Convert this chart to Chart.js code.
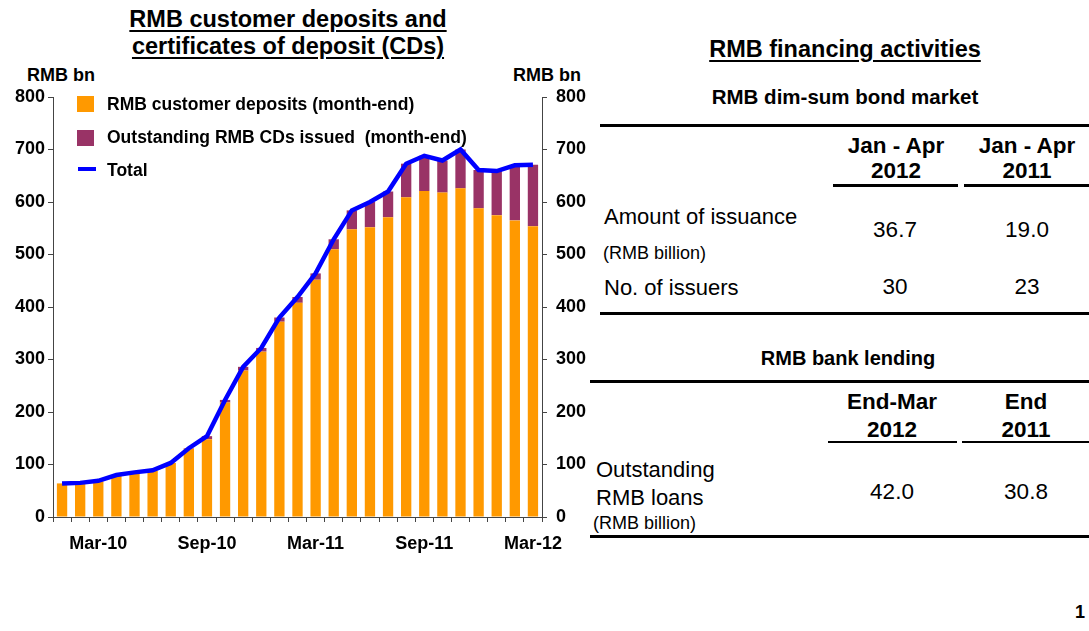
<!DOCTYPE html>
<html>
<head>
<meta charset="utf-8">
<script src="https://cdn.jsdelivr.net/npm/chart.js@4"></script>
<style>
  body { margin: 0; background: #fff; font-family: "Liberation Sans", Arial, sans-serif; color: #000; }
  #page { position: relative; width: 1089px; height: 631px; overflow: hidden; }
  .t { position: absolute; white-space: nowrap; line-height: 1; }
  .b { font-weight: bold; }
  .u { text-decoration: underline; text-underline-offset: 3px; text-decoration-thickness: 2px; }
  .c { transform: translateX(-50%); text-align: center; }
  .ln { position: absolute; background: #000; }
  .sw { position: absolute; width: 17px; height: 16px; }
  #wrap { position: absolute; left: 0; top: 60px; width: 590px; height: 500px; }
</style>
</head>
<body>
<div id="page">
  <div class="t b u c" style="left:288px; top:8px; font-size:23.5px;">RMB customer deposits and</div>
  <div class="t b u c" style="left:288px; top:35px; font-size:23.5px;">certificates of deposit (CDs)</div>
  <div class="t b" style="left:27px; top:66px; font-size:18px;">RMB bn</div>
  <div class="t b" style="left:513px; top:66px; font-size:18px;">RMB bn</div>

  <div id="wrap"><canvas id="chart1"></canvas></div>

  <div class="sw" style="left:77px; top:96px; background:#FF9900;"></div>
  <div class="t b" style="left:107px; top:95.5px; font-size:17.5px;">RMB customer deposits (month-end)</div>
  <div class="sw" style="left:77px; top:130px; background:#993366;"></div>
  <div class="t b" style="left:107px; top:128.5px; font-size:17.5px;">Outstanding RMB CDs issued&nbsp; (month-end)</div>
  <div class="ln" style="left:78px; top:166.5px; width:18px; height:4px; background:#0000FF;"></div>
  <div class="t b" style="left:107px; top:161.5px; font-size:17.5px;">Total</div>

  <div class="t b u c" style="left:845px; top:37.5px; font-size:23.5px;">RMB financing activities</div>
  <div class="t b c" style="left:845px; top:87px; font-size:20.5px;">RMB dim-sum bond market</div>
  <div class="ln" style="left:600px; top:124px; width:489px; height:3px;"></div>
  <div class="t b c" style="left:896px; top:135px; font-size:22.5px;">Jan - Apr</div>
  <div class="t b c" style="left:896px; top:160px; font-size:22.5px;">2012</div>
  <div class="t b c" style="left:1027px; top:135px; font-size:22.5px;">Jan - Apr</div>
  <div class="t b c" style="left:1027px; top:160px; font-size:22.5px;">2011</div>
  <div class="ln" style="left:833px; top:184px; width:125px; height:2.5px;"></div>
  <div class="ln" style="left:964px; top:184px; width:125px; height:2.5px;"></div>
  <div class="t" style="left:604px; top:206px; font-size:22px;">Amount of issuance</div>
  <div class="t" style="left:603px; top:244px; font-size:18px;">(RMB billion)</div>
  <div class="t" style="left:604px; top:277px; font-size:22px;">No. of issuers</div>
  <div class="t c" style="left:895px; top:219px; font-size:22.5px;">36.7</div>
  <div class="t c" style="left:1027px; top:219px; font-size:22.5px;">19.0</div>
  <div class="t c" style="left:895px; top:276px; font-size:22.5px;">30</div>
  <div class="t c" style="left:1027px; top:276px; font-size:22.5px;">23</div>
  <div class="ln" style="left:600px; top:312px; width:489px; height:3px;"></div>

  <div class="t b c" style="left:848px; top:348px; font-size:20px;">RMB bank lending</div>
  <div class="ln" style="left:590px; top:380px; width:499px; height:3px;"></div>
  <div class="t b c" style="left:892px; top:391px; font-size:22.5px;">End-Mar</div>
  <div class="t b c" style="left:892px; top:419px; font-size:22.5px;">2012</div>
  <div class="t b c" style="left:1026px; top:391px; font-size:22.5px;">End</div>
  <div class="t b c" style="left:1026px; top:419px; font-size:22.5px;">2011</div>
  <div class="ln" style="left:828px; top:440.5px; width:129px; height:2.5px;"></div>
  <div class="ln" style="left:962px; top:440.5px; width:127px; height:2.5px;"></div>
  <div class="t" style="left:596px; top:459px; font-size:22px;">Outstanding</div>
  <div class="t" style="left:596px; top:487px; font-size:22px;">RMB loans</div>
  <div class="t" style="left:593px; top:514px; font-size:18px;">(RMB billion)</div>
  <div class="t c" style="left:892px; top:481px; font-size:22.5px;">42.0</div>
  <div class="t c" style="left:1026px; top:481px; font-size:22.5px;">30.8</div>
  <div class="ln" style="left:590px; top:535px; width:499px; height:3px;"></div>

  <div class="t b" style="left:1075px; top:603px; font-size:18px;">1</div>
</div>

<script>
// months Jan-10 .. Mar-12
var months = ["Jan-10","Feb-10","Mar-10","Apr-10","May-10","Jun-10","Jul-10","Aug-10","Sep-10","Oct-10","Nov-10","Dec-10",
              "Jan-11","Feb-11","Mar-11","Apr-11","May-11","Jun-11","Jul-11","Aug-11","Sep-11","Oct-11","Nov-11","Dec-11",
              "Jan-12","Feb-12","Mar-12"];
var tickLabels = ["Mar-10","Sep-10","Mar-11","Sep-11","Mar-12"];

// RMB bn
var deposits = [64, 65, 68, 79, 84, 88, 103, 130, 148, 218, 279, 315, 372, 408, 452, 510, 548, 552, 571, 609, 621, 618, 626, 588, 575, 565, 554];
var cds      = [0, 0, 0, 0, 0, 0, 0, 1, 6, 5, 7, 7, 8, 11, 12, 19, 36, 48, 49, 64, 67, 61, 74, 73, 84, 105, 117];
var totals   = [64, 65, 69, 80, 85, 89, 103, 131, 154, 223, 286, 322, 380, 419, 464, 529, 584, 600, 620, 673, 688, 679, 700, 661, 659, 670, 671];

var fontB = { family: "'Liberation Sans', Arial, sans-serif", size: 18, weight: "bold" };

new Chart(document.getElementById("chart1"), {
  type: 'bar',
  data: {
    labels: months,
    datasets: [
      { label: "RMB customer deposits (month-end)", data: deposits, backgroundColor: "#FF9900", yAxisID: 'y', stack: 's', order: 2 },
      { label: "Outstanding RMB CDs issued  (month-end)", data: cds, backgroundColor: "#993366", yAxisID: 'y', stack: 's', order: 2 },
      { type: 'line', label: "Total", data: totals, borderColor: "#0000FF", borderWidth: 4.5,
        pointRadius: 0, tension: 0, fill: false, yAxisID: 'y1', order: 1 }
    ]
  },
  options: {
    responsive: true,
    maintainAspectRatio: false,
    animation: false,
    layout: { padding: { top: 37, left: 0, right: 0, bottom: 0 } },
    plugins: { legend: { display: false }, tooltip: { enabled: false } },
    datasets: { bar: { barPercentage: 0.57, categoryPercentage: 1.0 } },
    scales: {
      x: {
        stacked: true,
        offset: true,
        afterFit: function(s) { s.height = 43; },
        border: { color: "#444", width: 1 },
        grid: { display: true, offset: true, drawOnChartArea: false, drawTicks: true, tickLength: 5, color: "#444" },
        ticks: {
          autoSkip: false, maxRotation: 0, padding: 11, color: "#000", font: fontB,
          callback: function(v, i) {
            var l = months[i];
            return tickLabels.indexOf(l) >= 0 ? l : "";
          }
        }
      },
      y: {
        stacked: true,
        position: 'left',
        min: 0, max: 800,
        afterFit: function(s) { s.width = 53; },
        border: { color: "#444", width: 1 },
        grid: { display: true, drawOnChartArea: false, tickLength: 5, color: "#444" },
        ticks: { stepSize: 100, padding: 3, color: "#000", font: fontB }
      },
      y1: {
        position: 'right',
        min: 0, max: 800,
        afterFit: function(s) { s.width = 48; },
        border: { color: "#444", width: 1 },
        grid: { display: true, drawOnChartArea: false, tickLength: 5, color: "#444" },
        ticks: { stepSize: 100, padding: 9, color: "#000", font: fontB }
      }
    }
  }
});
</script>
</body>
</html>
